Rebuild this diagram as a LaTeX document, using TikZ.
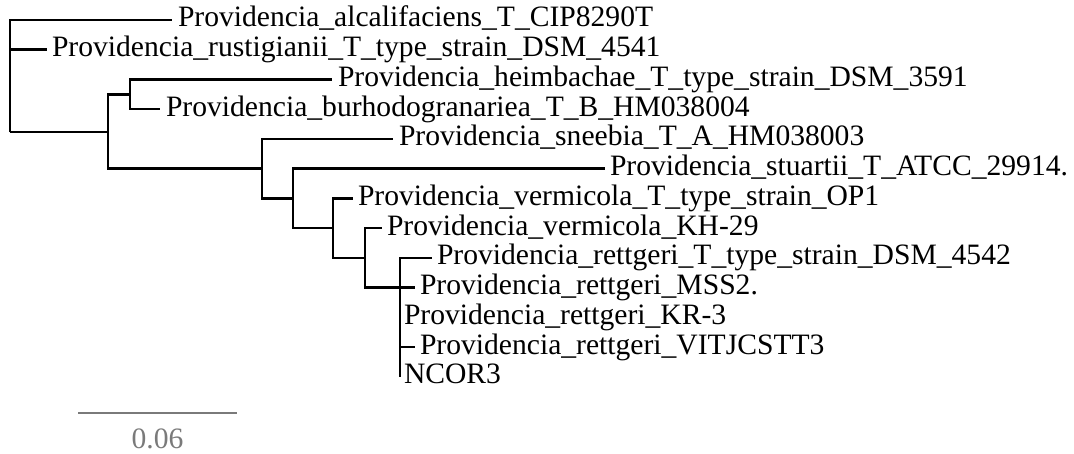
\documentclass[tikz,border=0pt]{standalone}
\usepackage{fontspec}
\setmainfont{Liberation Serif}
\usetikzlibrary{calc}
\definecolor{scalegray}{HTML}{7A7A7A}
\tikzset{
  branch/.style={line width=2.5pt, black, line join=miter},
  leaf/.style={anchor=base west, inner sep=0pt, outer sep=0pt, font=\fontsize{29.6}{30}\selectfont},
  scalebar/.style={line width=2.5pt, scalegray},
  scalelabel/.style={anchor=base, inner sep=0pt, text=scalegray, font=\fontsize{29.6}{30}\selectfont}
}
\begin{document}
\begin{tikzpicture}[x=1pt,y=-1pt]
\useasboundingbox (0,0) rectangle (1074,454);
% internal nodes
\coordinate (R) at (10,132.25);
\coordinate (G) at (108,132.25);
\coordinate (A) at (130,94.4);
\coordinate (B) at (262,168.75);
\coordinate (C) at (293,198.5);
\coordinate (D) at (333,228.25);
\coordinate (E) at (365,258);
\coordinate (F) at (400,287.75);
% tips
\coordinate (t1) at (172,20);
\coordinate (t2) at (47,49.75);
\coordinate (t3) at (332,79.5);
\coordinate (t4) at (160,109.25);
\coordinate (t5) at (393,139);
\coordinate (t6) at (605,168.75);
\coordinate (t7) at (353,198.5);
\coordinate (t8) at (382,228.25);
\coordinate (t9) at (432,258);
\coordinate (t10) at (415,287.75);
\coordinate (t11) at (400,317.5);
\coordinate (t12) at (415,347.25);
\coordinate (t13) at (400,377);
% branches
\draw[branch] (R) |- (t1);
\draw[branch] (R) |- (t2);
\draw[branch] (R) |- (G);
\draw[branch] (G) |- (A);
\draw[branch] (G) |- (B);
\draw[branch] (A) |- (t3);
\draw[branch] (A) |- (t4);
\draw[branch] (B) |- (t5);
\draw[branch] (B) |- (C);
\draw[branch] (C) |- (t6);
\draw[branch] (C) |- (D);
\draw[branch] (D) |- (t7);
\draw[branch] (D) |- (E);
\draw[branch] (E) |- (t8);
\draw[branch] (E) |- (F);
\draw[branch] (F) |- (t9);
\draw[branch] (F) |- (t10);
\draw[branch] (F) |- (t11);
\draw[branch] (F) |- (t12);
\draw[branch] (F) |- (t13);
% labels
\node[leaf] (l1) at ($(t1)+(6,6.8)$) {Providencia\_alcalifaciens\_T\_CIP8290T};
\node[leaf] (l2) at ($(t2)+(5,6.8)$) {Providencia\_rustigianii\_T\_type\_strain\_DSM\_4541};
\node[leaf] (l3) at ($(t3)+(6,6.8)$) {Providencia\_heimbachae\_T\_type\_strain\_DSM\_3591};
\node[leaf] (l4) at ($(t4)+(6,6.8)$) {Providencia\_burhodogranariea\_T\_B\_HM038004};
\node[leaf] (l5) at ($(t5)+(6,6.8)$) {Providencia\_sneebia\_T\_A\_HM038003};
\node[leaf] (l6) at ($(t6)+(5,6.8)$) {Providencia\_stuartii\_T\_ATCC\_29914.};
\node[leaf] (l7) at ($(t7)+(5,6.8)$) {Providencia\_vermicola\_T\_type\_strain\_OP1};
\node[leaf] (l8) at ($(t8)+(5,6.8)$) {Providencia\_vermicola\_KH-29};
\node[leaf] (l9) at ($(t9)+(5,6.8)$) {Providencia\_rettgeri\_T\_type\_strain\_DSM\_4542};
\node[leaf] (l10) at ($(t10)+(5,6.8)$) {Providencia\_rettgeri\_MSS2.};
\node[leaf] (l11) at ($(t11)+(4,6.8)$) {Providencia\_rettgeri\_KR-3};
\node[leaf] (l12) at ($(t12)+(5,6.8)$) {Providencia\_rettgeri\_VITJCSTT3};
\node[leaf] (l13) at ($(t13)+(4,6.8)$) {NCOR3};
% scale bar
\coordinate (s1) at (78,413);
\coordinate (s2) at (237,413);
\draw[scalebar] (s1) -- (s2);
\node[scalelabel] (sl) at (157.5,448) {0.06};
\end{tikzpicture}
\end{document}
